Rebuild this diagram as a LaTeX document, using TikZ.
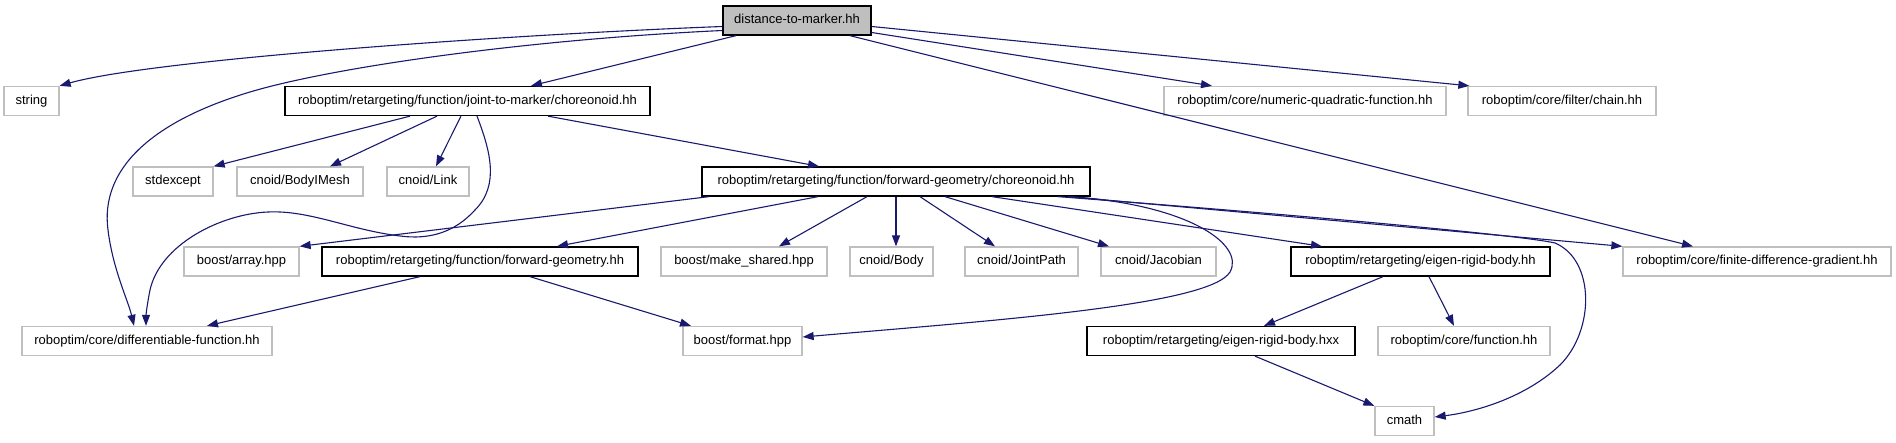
\documentclass[tikz,border=0pt]{standalone}
\usepackage{fontspec}
\setmainfont{Liberation Sans}
\usetikzlibrary{arrows.meta, calc}
\definecolor{edgeblue}{HTML}{191970}
\definecolor{boxgray}{HTML}{BFBFBF}
\definecolor{rootgray}{HTML}{BFBFBF}

\begin{document}
\begin{tikzpicture}[
  x=1pt, y=-1pt,
  >={Triangle[length=11pt, width=8pt]},
  every node/.style={font=\fontsize{13}{15}\selectfont},
  file/.style={
    draw=#1, fill=white, line width=1.3pt,
    minimum height=29pt, inner xsep=0pt, inner ysep=0pt,
    text height=9.5pt, text depth=3pt,
  },
  file/.default=black,
  sysfile/.style={file=boxgray},
  root/.style={file=black, fill=rootgray},
  edge/.style={->, line width=1.1pt, edgeblue},
]

% page
\fill[white] (0,0) rectangle (1896,443);
\useasboundingbox (0,0) rectangle (1896,443);

% === ROW 0 ===
\node[root, minimum width=148pt] (dtm) at (797,20.5) {distance-to-marker.hh};

% === ROW 1 ===
\node[sysfile, minimum width=55pt] (str) at (31.5,101) {string};
\node[file, minimum width=365pt] (jtm) at (467.5,101) {roboptim/retargeting/function/joint-to-marker/choreonoid.hh};
\node[sysfile, minimum width=282pt] (numquad) at (1305,101) {roboptim/core/numeric-quadratic-function.hh};
\node[sysfile, minimum width=188pt] (chain) at (1562,101) {roboptim/core/filter/chain.hh};

% === ROW 2 ===
\node[sysfile, minimum width=80pt] (stdex) at (173,181.5) {stdexcept};
\node[sysfile, minimum width=126pt] (bmesh) at (300,181.5) {cnoid/BodyIMesh};
\node[sysfile, minimum width=82pt] (link) at (428,181.5) {cnoid/Link};
\node[file, minimum width=388pt] (fgc) at (896,181.5) {roboptim/retargeting/function/forward-geometry/choreonoid.hh};

% === ROW 3 ===
\node[sysfile, minimum width=115pt] (array) at (241.5,261.5) {boost/array.hpp};
\node[file, minimum width=316pt] (fgeom) at (480,261.5) {roboptim/retargeting/function/forward-geometry.hh};
\node[sysfile, minimum width=166pt] (mkshared) at (744,261.5) {boost/make\_shared.hpp};
\node[sysfile, minimum width=83pt] (body) at (891.5,261.5) {cnoid/Body};
\node[sysfile, minimum width=113pt] (jpath) at (1021.5,261.5) {cnoid/JointPath};
\node[sysfile, minimum width=115pt] (jacob) at (1158.5,261.5) {cnoid/Jacobian};
\node[file, minimum width=259pt] (erb) at (1420.5,261.5) {roboptim/retargeting/eigen-rigid-body.hh};
\node[sysfile, minimum width=268pt] (fdg) at (1757,261.5) {roboptim/core/finite-difference-gradient.hh};

% === ROW 4 ===
\node[sysfile, minimum width=250pt] (diff) at (147,341) {roboptim/core/differentiable-function.hh};
\node[sysfile, minimum width=119pt] (format) at (742.5,341) {boost/format.hpp};
\node[file, minimum width=268pt] (hxx) at (1221,341) {roboptim/retargeting/eigen-rigid-body.hxx};
\node[sysfile, minimum width=172pt] (func) at (1464,341) {roboptim/core/function.hh};

% === ROW 5 ===
\node[sysfile, minimum width=59pt] (cmath) at (1404.5,421) {cmath};

% includes of distance-to-marker.hh
\draw[edge] ($(dtm.west)+(0,6)$) .. controls (500,35) and (150,60) .. (str.north east);
\draw[edge] ($(dtm.west)+(0,10)$) .. controls (520,40) and (330,68) .. (250,92)
  .. controls (150,122) and (100,170) .. (108,230)
  .. controls (113,270) and (128,300) .. ($(diff.north)+(-13,0)$);
\draw[edge] ($(dtm.south)+(-61,0)$) -- ($(jtm.north)+(63.5,0)$);
\draw[edge] ($(dtm.east)+(0,12)$) -- ($(numquad.north)+(-93,0)$);
\draw[edge] ($(dtm.east)+(0,6)$) -- ($(chain.north west)+(2,0)$);
\draw[edge] ($(dtm.south)+(53,0)$) -- ($(fdg.north)+(-64,0)$);

% includes of joint-to-marker/choreonoid.hh
\draw[edge] ($(jtm.south)+(-57.5,0)$) -- (stdex.north east);
\draw[edge] ($(jtm.south)+(-30.5,0)$) -- ($(bmesh.north)+(30,0)$);
\draw[edge] ($(jtm.south)+(-6.5,0)$) -- ($(link.north)+(8,0)$);
\draw[edge] ($(jtm.south)+(9.5,0)$) .. controls (490,150) and (500,185) .. (475,210)
  .. controls (455,232) and (430,240) .. (400,236)
  .. controls (350,230) and (310,210) .. (268,212)
  .. controls (220,214) and (160,245) .. (150,290)
  .. controls (147,305) and (146,315) .. ($(diff.north)+(-1,0)$);
\draw[edge] ($(jtm.south)+(80.5,0)$) -- ($(fgc.north)+(-77,0)$);

% includes of forward-geometry/choreonoid.hh
\draw[edge] ($(fgc.south)+(-187,0)$) -- (array.north east);
\draw[edge] ($(fgc.south)+(-78,0)$) -- ($(fgeom.north)+(77,0)$);
\draw[edge] ($(fgc.south)+(-29,0)$) -- ($(mkshared.north)+(35,0)$);
\draw[edge] (fgc.south) -- ($(body.north)+(4.5,0)$);
\draw[edge] ($(fgc.south)+(24,0)$) -- ($(jpath.north)+(-26.5,0)$);
\draw[edge] ($(fgc.south)+(49,0)$) -- ($(jacob.north)+(-49.5,0)$);
\draw[edge] ($(fgc.south)+(96,0)$) -- ($(erb.north)+(-98.5,0)$);
\draw[edge] ($(fgc.south)+(172,0)$) -- (fdg.north west);
\draw[edge] ($(fgc.south)+(162,0)$) .. controls (1300,215) and (1520,235) .. (1555,243)
  .. controls (1595,260) and (1595,330) .. (1560,365)
  .. controls (1525,398) and (1475,412) .. ($(cmath.east)+(0,-4)$);
\draw[edge] ($(fgc.south)+(175,0)$) .. controls (1190,205) and (1245,245) .. (1230,272)
  .. controls (1210,305) and (1000,320) .. ($(format.east)+(0,-4)$);

% includes of forward-geometry.hh
\draw[edge] ($(fgeom.south)+(-60,0)$) -- ($(diff.north)+(60,0)$);
\draw[edge] ($(fgeom.south)+(50,0)$) -- ($(format.north)+(-51.5,0)$);

% includes of eigen-rigid-body
\draw[edge] ($(erb.south)+(-37.5,0)$) -- ($(hxx.north)+(43,0)$);
\draw[edge] ($(erb.south)+(8.5,0)$) -- ($(func.north)+(-10,0)$);
\draw[edge] ($(hxx.south)+(34,0)$) -- (cmath.north west);

\end{tikzpicture}
\end{document}
